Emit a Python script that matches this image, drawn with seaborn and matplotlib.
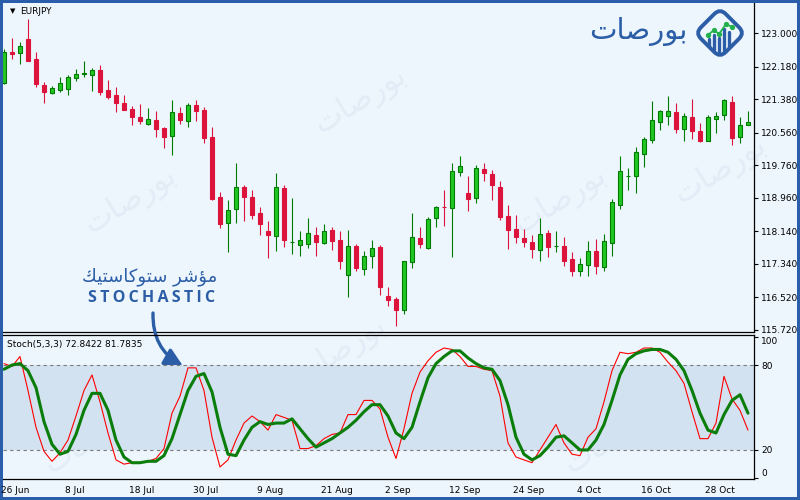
import numpy as np
import pandas as pd
import matplotlib
matplotlib.use("Agg")
import matplotlib.pyplot as plt
import matplotlib.transforms as mtransforms
import seaborn as sns
from matplotlib.patches import Rectangle, FancyBboxPatch
from matplotlib.lines import Line2D

# ==============================
# DATA
# ==============================
symbol = "EURJPY"
stoch_label = "Stoch(5,3,3) 72.8422 81.7835"

opens = [121.78, 122.53, 122.52, 122.86, 122.37, 121.73, 121.53, 121.61, 121.63, 121.90,
         122.00, 121.98, 122.10, 121.61, 121.49, 121.29, 121.14, 120.95, 120.77, 120.87,
         120.68, 120.48, 121.04, 120.85, 121.24, 121.12, 120.46, 118.98, 118.34, 118.69,
         119.23, 118.98, 118.59, 118.15, 118.03, 119.20, 117.87, 117.80, 117.83, 118.05,
         117.85, 118.17, 117.93, 117.07, 117.78, 117.22, 117.53, 117.76, 116.55, 116.48,
         116.21, 117.39, 117.98, 117.73, 118.47, 118.74, 118.71, 119.60, 119.08, 118.96,
         119.67, 119.55, 119.23, 118.52, 118.20, 117.98, 117.88, 117.68, 118.10, 117.77,
         117.78, 117.46, 117.17, 117.31, 117.66, 117.27, 117.85, 118.79, 119.49, 119.50,
         120.04, 120.38, 120.82, 120.97, 121.07, 120.65, 120.95, 120.60, 120.36, 120.90,
         121.00, 121.31, 120.46, 120.75]
highs = [122.61, 122.88, 122.79, 123.35, 122.54, 121.80, 121.71, 121.93, 121.98, 122.12,
         122.32, 122.15, 122.22, 121.85, 121.68, 121.49, 121.22, 121.27, 121.17, 121.09,
         120.70, 121.36, 121.19, 121.29, 121.36, 121.19, 120.70, 119.11, 118.91, 119.82,
         119.28, 119.15, 118.74, 118.39, 119.57, 119.28, 118.96, 118.15, 118.47, 118.25,
         118.32, 118.25, 118.15, 118.17, 117.83, 117.66, 117.93, 117.80, 116.77, 116.53,
         117.42, 118.59, 118.25, 118.49, 118.76, 119.15, 119.82, 119.99, 119.50, 119.77,
         119.82, 119.65, 119.38, 118.79, 118.54, 118.20, 118.05, 118.47, 118.17, 118.15,
         118.00, 117.63, 117.49, 117.90, 117.95, 118.08, 118.93, 119.99, 119.69, 120.21,
         120.46, 121.34, 121.12, 121.46, 121.29, 121.04, 121.39, 120.80, 121.00, 121.07,
         121.39, 121.46, 120.95, 121.09]
lows = [121.76, 122.37, 122.25, 122.31, 121.68, 121.29, 121.51, 121.56, 121.49, 121.83,
        121.93, 121.58, 121.49, 121.39, 121.07, 121.11, 120.75, 120.77, 120.76, 120.46,
        120.19, 120.01, 120.77, 120.70, 120.85, 120.31, 118.91, 118.22, 117.63, 118.34,
        118.39, 118.44, 118.05, 117.49, 117.66, 117.76, 117.58, 117.53, 117.73, 117.53,
        117.82, 117.68, 117.22, 116.53, 117.17, 117.07, 117.24, 116.58, 116.31, 115.82,
        116.11, 117.24, 117.73, 117.71, 118.25, 118.27, 117.51, 119.50, 118.64, 118.84,
        119.38, 118.91, 118.42, 117.71, 117.85, 117.76, 117.49, 117.41, 117.51, 117.63,
        117.29, 117.04, 117.04, 117.04, 117.09, 117.17, 117.53, 118.69, 119.15, 119.08,
        119.72, 120.31, 120.63, 120.75, 120.55, 120.36, 120.41, 120.33, 120.35, 120.55,
        120.87, 120.26, 120.31, 120.74]
closes = [122.54, 122.50, 122.69, 122.32, 121.76, 121.56, 121.66, 121.78, 121.93, 122.00,
          122.03, 122.10, 121.56, 121.44, 121.29, 121.12, 120.95, 120.85, 120.90, 120.65,
          120.46, 121.07, 120.87, 121.24, 121.09, 120.43, 118.93, 118.32, 118.66, 119.23,
          118.98, 118.54, 118.32, 118.05, 119.23, 117.93, 117.89, 117.93, 118.10, 117.88,
          118.15, 117.90, 117.41, 117.78, 117.24, 117.53, 117.73, 116.77, 116.46, 116.21,
          117.41, 118.00, 117.83, 118.44, 118.74, 118.73, 119.62, 119.74, 118.93, 119.69,
          119.57, 119.28, 118.49, 118.17, 118.00, 117.88, 117.71, 118.08, 117.76, 117.79,
          117.41, 117.17, 117.34, 117.66, 117.29, 117.90, 118.86, 119.62, 119.51, 120.09,
          120.41, 120.87, 121.09, 121.09, 120.65, 120.97, 120.60, 120.36, 120.95, 120.97,
          121.36, 120.43, 120.75, 120.82]

stoch_k = [81, 79, 86, 62, 36, 19, 12, 18, 27, 44, 62, 73, 54, 32, 13, 10, 11, 11, 12, 14,
           21, 46, 58, 78, 78, 62, 29, 8, 13, 27, 39, 44, 40, 34, 45, 43, 41, 21, 21, 23,
           28, 31, 32, 45, 45, 55, 55, 49, 29, 14, 35, 60, 75, 83, 89, 92, 91, 86, 79, 79,
           77, 76, 58, 25, 15, 13, 11, 20, 29, 38, 25, 17, 16, 29, 35, 54, 76, 89, 88, 89,
           92, 92, 89, 82, 76, 67, 47, 28, 28, 39, 72, 56, 48, 34]
stoch_d = [77, 80, 81, 76, 64, 40, 24, 17, 19, 31, 48, 60, 60, 48, 27, 15, 11, 11, 12, 12,
           16, 28, 45, 62, 72, 74, 61, 36, 17, 16, 27, 36, 40, 38, 39, 39, 42, 35, 28, 22,
           25, 28, 32, 36, 41, 47, 52, 52, 44, 32, 28, 36, 54, 71, 81, 86, 90, 90, 85, 81,
           78, 77, 69, 52, 29, 17, 13, 16, 22, 29, 30, 25, 20, 20, 27, 38, 55, 73, 84, 88,
           90, 91, 91, 89, 84, 76, 62, 46, 34, 32, 45, 55, 59, 46]

date_labels = ["26 Jun", "8 Jul", "18 Jul", "30 Jul", "9 Aug", "21 Aug", "2 Sep",
               "12 Sep", "24 Sep", "4 Oct", "16 Oct", "28 Oct"]
date_bars = [0, 8, 16, 24, 32, 40, 48, 56, 64, 72, 80, 88]

price_ticks = [123.0, 122.18, 121.38, 120.56, 119.76, 118.96, 118.14, 117.34, 116.52, 115.72]
stoch_ticks = [100, 80, 20, 0]
over_bought = 80
over_sold = 20

# ==============================
# STYLE
# ==============================
sns.set_theme(style="white")
plt.rcParams["font.family"] = ["DejaVu Sans"]

BG = "#eef6fd"
FRAME = "#2a5eab"
BRAND = "#2b5ea6"
UP_FILL = "#22c722"
UP_EDGE = "#007a00"
DOWN = "#dc143c"
BAND = "#d3e2f0"

W, H = 800, 500
fig = plt.figure(figsize=(8, 5), dpi=100)
fig.patch.set_facecolor(FRAME)
fig.add_artist(Rectangle((3 / W, 3 / H), 794 / W, 494 / H, transform=fig.transFigure,
                         facecolor=BG, edgecolor="none", zorder=-5))

ax1 = fig.add_axes([3 / W, 1 - 332 / H, 751 / W, 329 / H])
ax2 = fig.add_axes([3 / W, 1 - 479 / H, 751 / W, 144 / H])
for ax in (ax1, ax2):
    ax.set_facecolor("none")
    ax.spines["left"].set_visible(False)
    for s in ("right", "bottom", "top"):
        ax.spines[s].set_color("black")
        ax.spines[s].set_linewidth(0.9)
ax1.spines["top"].set_visible(False)

# ==============================
# CANDLES
# ==============================
df = pd.DataFrame({"open": opens, "high": highs, "low": lows, "close": closes})
df["bar"] = np.arange(len(df))
up = df["close"] >= df["open"]

ax1.vlines(df["bar"], df["low"], df["high"],
           colors=np.where(up, UP_EDGE, DOWN), linewidth=0.8, zorder=2)
ax1.bar(df["bar"], (df["close"] - df["open"]).abs(),
        bottom=df[["open", "close"]].min(axis=1), width=0.6,
        color=np.where(up, UP_FILL, DOWN), edgecolor=np.where(up, UP_EDGE, DOWN),
        linewidth=0.8, zorder=3)

ax1.set_xlim(-0.125, 93.75)
ax1.set_ylim(115.67, 123.743)
ax1.set_xticks([])
ax1.yaxis.tick_right()
ax1.set_yticks(price_ticks)
ax1.set_yticklabels([f"{v:.3f}" for v in price_ticks])
ax1.tick_params(axis="y", direction="out", length=3, width=0.8, colors="black",
                labelsize=6.5, pad=2, right=True, left=False)

ax1.text(7 / 751, 1 - 8 / 329, "\u25BC", transform=ax1.transAxes, fontsize=5,
         va="center", ha="left", color="black")
ax1.text(17 / 751, 1 - 8 / 329, symbol, transform=ax1.transAxes, fontsize=6.5,
         va="center", ha="left", color="black")

# ==============================
# STOCHASTIC
# ==============================
ax2.axhspan(over_sold, over_bought, color=BAND, zorder=0, lw=0)
for lvl in (over_bought, over_sold):
    ax2.axhline(lvl, color="#7a7a7a", lw=0.8, ls=(0, (3, 3)), zorder=1)
bars = np.arange(len(stoch_k))
sns.lineplot(x=bars, y=stoch_k, ax=ax2, color="#ff0000", linewidth=0.8, zorder=3)
sns.lineplot(x=bars, y=stoch_d, ax=ax2, color="#0a7d0a", linewidth=2.2, zorder=4)

ax2.set_xlim(-0.125, 93.75)
ax2.set_ylim(-0.5, 101.2)
ax2.set_ylabel("")
ax2.yaxis.tick_right()
ax2.set_yticks(stoch_ticks)
ax2.set_yticklabels([str(v) for v in stoch_ticks])
ax2.tick_params(axis="y", direction="out", length=3, width=0.8, colors="black",
                labelsize=6.5, pad=2, right=True, left=False)
ylabels = ax2.get_yticklabels()
ylabels[0].set_va("top")
ylabels[-1].set_va("bottom")

ax2.set_xticks(date_bars)
ax2.set_xticklabels(date_labels, ha="left")
ax2.tick_params(axis="x", direction="out", length=0, labelsize=6.5, pad=5,
                colors="black", bottom=True)
offset = mtransforms.ScaledTranslation(-2 / 72, 0, fig.dpi_scale_trans)
for lab in ax2.get_xticklabels():
    lab.set_transform(lab.get_transform() + offset)

ax2.text(4 / 751, 1 - 10 / 144, stoch_label, transform=ax2.transAxes, fontsize=6.5,
         va="center", ha="left", color="black")

# ==============================
# BRANDING / ANNOTATION
# ==============================
px = mtransforms.Affine2D().scale(1 / W, 1 / H) + fig.transFigure
brand_word = "\uFE95\uFE8E\uFEBB\uFEAD\uFEEE\uFE91"

# faint watermarks
wm_color = "#e2ecf6"
for (wx, wy) in [(360, 400), (130, 300), (560, 300), (340, 150), (720, 330), (90, 60), (610, 60)]:
    fig.text(wx / W, wy / H, brand_word, rotation=32,
             fontsize=22, color=wm_color, ha="center", va="center", zorder=-4)

# logo
fig.text(638 / W, 1 - 32 / H, brand_word, fontsize=21,
         color=BRAND, ha="center", va="center", zorder=6)
cx, cy = 720, H - 33
rot = mtransforms.Affine2D().rotate_deg_around(cx, cy, 45) + px
fig.add_artist(FancyBboxPatch((cx - 17.5, cy - 17.5), 35, 35,
                              boxstyle="round,pad=0,rounding_size=8",
                              transform=rot, facecolor="none", edgecolor=BRAND,
                              linewidth=2.8, zorder=6))
for bx, btop, bbot in [(709, 39, 46), (714, 35, 50), (719, 38, 53), (724, 29, 51), (729, 32, 47)]:
    fig.add_artist(Line2D([bx, bx], [H - bbot, H - btop], transform=px, color=BRAND,
                          linewidth=2.4, zorder=6))
fig.add_artist(Line2D([708, 714, 719, 726, 732], [H - 35, H - 30, H - 34, H - 24, H - 27],
                      transform=px, color="#22b14c", linewidth=1.3, marker="o",
                      markersize=2.8, zorder=7))

# annotation
fig.text(150 / W, 1 - 277 / H,
         "\uFEDA\uFEF4\uFE98\uFEB3\uFE8E\uFEDB\uFEEE\uFE98\uFEB3 \uFEAE\uFEB7\uFE86\uFEE3",
         fontsize=13, color=BRAND, ha="center", va="center", zorder=6)
fig.text(152 / W, 1 - 298 / H, "\u2009".join("STOCHASTIC"), fontsize=11.5,
         family=["Open Sans", "DejaVu Sans"], weight="bold", color=BRAND,
         ha="center", va="center", zorder=6)
ax1.annotate("", xy=(183, H - 366), xycoords="figure pixels",
             xytext=(153, H - 313), textcoords="figure pixels",
             arrowprops=dict(arrowstyle="-|>,head_length=0.9,head_width=0.45",
                             color=BRAND, lw=2.4, shrinkA=0, shrinkB=0,
                             connectionstyle="arc3,rad=0.3"),
             annotation_clip=False, zorder=8)

fig.savefig("out.png", dpi=100, facecolor=FRAME)
